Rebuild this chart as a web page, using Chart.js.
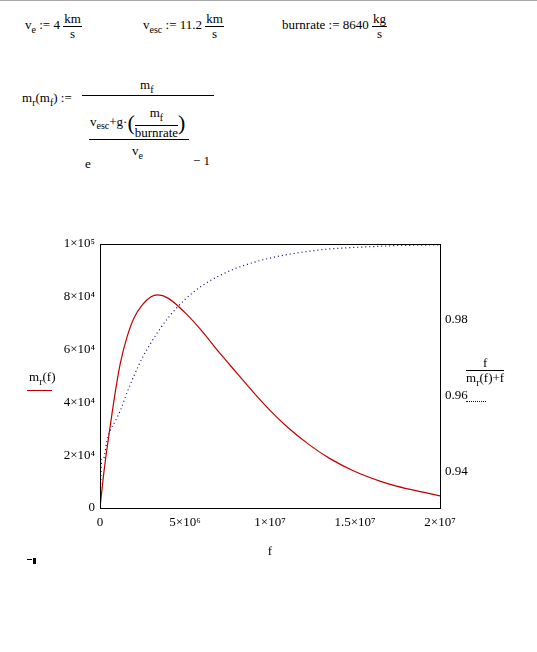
<!DOCTYPE html>
<html><head><meta charset="utf-8">
<script src="https://cdn.jsdelivr.net/npm/chart.js@4"></script>
<style>
body{margin:0;background:#fff;font-family:"Liberation Serif",serif;font-size:13px;color:#000}
.a{position:absolute;white-space:nowrap;color:#000}
.fr{display:inline-block;vertical-align:middle;text-align:center;line-height:14px}
.fr span{display:block}
.fr .n{border-bottom:1px solid #000;padding:0 1px}
sub{font-size:10px}
#wrap{position:absolute;left:0;top:232px;width:537px;height:331px}
</style></head><body>
<div style="position:absolute;left:0;top:0;width:537px;height:1px;background:#aaa"></div>
<div class="a" style="left:25px;top:12px">v<sub>e</sub> := 4 <span class="fr"><span class="n">km</span><span>s</span></span></div>
<div class="a" style="left:143px;top:12px">v<sub>esc</sub> := 11.2 <span class="fr"><span class="n">km</span><span>s</span></span></div>
<div class="a" style="left:282px;top:12px">burnrate := 8640 <span class="fr"><span class="n">kg</span><span>s</span></span></div>
<div class="a" style="left:22px;top:90px">m<sub>r</sub>(m<sub>f</sub>) :=</div>
<div class="a" style="left:82px;top:95px;width:132px;height:1px;background:#000"></div>
<div class="a" style="left:140px;top:77px">m<sub>f</sub></div>
<div class="a" style="left:90px;top:106px">v<sub>esc</sub>+g·<span style="font-size:22px;vertical-align:middle">(</span><span class="fr"><span class="n">m<sub>f</sub></span><span>burnrate</span></span><span style="font-size:22px;vertical-align:middle">)</span></div>
<div class="a" style="left:89px;top:139px;width:100px;height:1px;background:#000"></div>
<div class="a" style="left:132px;top:143px">v<sub>e</sub></div>
<div class="a" style="left:85px;top:156px">e</div>
<div class="a" style="left:193px;top:153px">− 1</div>
<div id="wrap"><canvas id="c"></canvas></div>
<div class="a" style="left:29px;top:369px">m<sub>r</sub>(f)</div>
<div class="a" style="left:27px;top:390px;width:25px;height:1px;background:#c00000"></div>
<div class="a" style="left:466px;top:356px;text-align:center"><span class="fr"><span class="n">&nbsp;&nbsp;f&nbsp;&nbsp;</span><span>m<sub>r</sub>(f)+f</span></span></div>
<div class="a" style="left:466px;top:401px;width:20px;border-top:1px dotted #000080"></div>
<div class="a" style="left:27px;top:559px;width:5px;height:1px;background:#000"></div>
<div class="a" style="left:33px;top:558px;width:3px;height:6px;background:#000"></div>
<script>
var fVals = [0, 0.1e6, 0.2e6, 0.4e6, 0.6e6, 0.9e6, 1.2e6, 1.6e6, 2e6, 2.5e6, 3e6, 3.4e6, 4e6, 5e6, 6e6, 7e6, 8e6, 9e6, 1e7, 1.1e7, 1.23e7, 1.35e7, 1.5e7, 1.65e7, 1.75e7, 1.9e7, 2e7];
var mrVals = [0, 6000, 12000, 22000, 31000, 44000, 55000, 65000, 72000, 77000, 80000, 80700, 79500, 74000, 67000, 59000, 51500, 44000, 37000, 30800, 24000, 18800, 13800, 10100, 8200, 6000, 4600];
var ratioVals = [0.9305, 0.9434, 0.9434, 0.9479, 0.9509, 0.9534, 0.9562, 0.9610, 0.9653, 0.9701, 0.9740, 0.9768, 0.9805, 0.9854, 0.9890, 0.9916, 0.9936, 0.9951, 0.9963, 0.9972, 0.9981, 0.9987, 0.9991, 0.9994, 0.9996, 0.9997, 0.9998];
var xTicks = [0, 5e6, 1e7, 1.5e7, 2e7];
var xTickLabels = ['0', '5×10⁶', '1×10⁷', '1.5×10⁷', '2×10⁷'];
var yTicks = [0, 2e4, 4e4, 6e4, 8e4, 1e5];
var yTickLabels = ['0', '2×10⁴', '4×10⁴', '6×10⁴', '8×10⁴', '1×10⁵'];
var y2Ticks = [0.94, 0.96, 0.98];

var font = {family: 'Liberation Serif', size: 13};
function pts(ys){ return fVals.map(function(x,i){ return {x:x, y:ys[i]}; }); }
function fixTicks(vals){ return function(s){ s.ticks = vals.map(function(v){ return {value:v}; }); }; }

new Chart(document.getElementById('c'), {
  type: 'line',
  data: {
    datasets: [{
      data: pts(mrVals), borderColor: '#c00000', borderWidth: 1.2,
      pointRadius: 0, cubicInterpolationMode: 'monotone', yAxisID: 'y'
    }, {
      data: pts(ratioVals), borderColor: '#000080', borderWidth: 1.2, borderDash: [1, 3],
      pointRadius: 0, cubicInterpolationMode: 'monotone', yAxisID: 'y2'
    }]
  },
  options: {
    responsive: true, maintainAspectRatio: false, animation: false,
    layout: {padding: {top: 12, right: 0, left: 0, bottom: 0}},
    plugins: {legend: {display: false}, tooltip: {enabled: false}},
    scales: {
      x: {
        type: 'linear', min: 0, max: 2e7,
        afterBuildTicks: fixTicks(xTicks),
        ticks: {font: font, color: '#000', maxRotation: 0, padding: 4,
          callback: function(v){ return xTickLabels[xTicks.indexOf(v)]; }},
        grid: {display: false, drawTicks: true, tickLength: 3},
        border: {color: '#000'},
        title: {display: true, text: 'f', font: font, color: '#000', padding: {top: 4}},
        afterFit: function(s){ s.height = 55; }
      },
      y: {
        position: 'left', min: 0, max: 1e5,
        afterBuildTicks: fixTicks(yTicks),
        ticks: {font: font, color: '#000', padding: 2,
          callback: function(v){ return yTickLabels[yTicks.indexOf(v)]; }},
        grid: {display: false, tickLength: 3},
        border: {color: '#000'},
        afterFit: function(s){ s.width = 100; }
      },
      y2: {
        position: 'right', min: 0.9305, max: 1.0,
        afterBuildTicks: fixTicks(y2Ticks),
        ticks: {font: font, color: '#000', padding: 2,
          callback: function(v){ return v.toFixed(2); }},
        grid: {display: false, tickLength: 3},
        border: {color: '#000'},
        afterFit: function(s){ s.width = 97; }
      }
    }
  },
  plugins: [{
    id: 'box',
    afterDraw: function(ch){
      var a = ch.chartArea, c = ch.ctx;
      c.save(); c.strokeStyle = '#000'; c.lineWidth = 1;
      c.strokeRect(a.left + 0.5, a.top + 0.5, a.right - a.left, a.bottom - a.top);
      c.restore();
    }
  }]
});
</script>
</body></html>
